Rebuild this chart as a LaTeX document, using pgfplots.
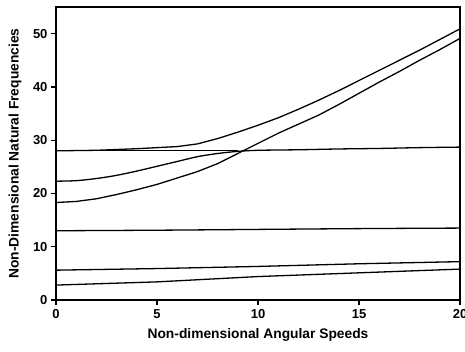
\documentclass[border=0pt]{standalone}
\usepackage{pgfplots}
\pgfplotsset{compat=1.18}
\usepackage{fontspec}
\setmainfont{Liberation Sans}
\begin{document}
\begin{tikzpicture}
\begin{axis}[
  scale only axis, width=404pt, height=293pt,
  xmin=0, xmax=20, ymin=0, ymax=55,
  xtick={0,5,10,15,20}, ytick={0,10,20,30,40,50},
  tick align=outside, tick pos=left,
  major tick length=5pt,
  axis line style={line width=1.6pt},
  every tick/.style={line width=1.2pt, black},
  tick label style={font=\fontsize{13}{14}\selectfont\bfseries},
  /pgf/number format/assume math mode=true,
  xlabel={\fontsize{13.8}{15}\selectfont\bfseries Non-dimensional Angular Speeds},
  ylabel={\fontsize{13.8}{15}\selectfont\bfseries Non-Dimensional Natural Frequencies},
  xlabel style={at={(axis description cs:0.5,-0.1195)}, anchor=center},
  ylabel style={at={(axis description cs:-0.1015,0.5)}, anchor=center},
  xticklabel style={yshift=-1pt},
  cycle list={{black, smooth, mark=none}},
  every axis plot/.append style={line width=1.3pt},
]
\addplot coordinates {(0,28.0) (2,28.1) (4,28.4) (6,28.8) (7,29.3) (8,30.3) (9,31.5) (10,32.8) (11,34.2) (12,35.8) (13,37.5) (14,39.3) (15,41.2) (16,43.1) (17,45.0) (18,46.9) (19,48.9) (20,50.9)};
\addplot coordinates {(0,22.3) (1,22.4) (2,22.8) (3,23.4) (4,24.2) (5,25.1) (6,26.0) (7,26.9) (8,27.5) (9,27.9) (10,28.1) (12,28.2) (14,28.35) (16,28.45) (18,28.6) (20,28.7)};
\addplot coordinates {(0,28.0) (4,28.0) (8,28.0) (9,28.0)};
\addplot coordinates {(0,18.3) (1,18.5) (2,19.0) (3,19.8) (4,20.7) (5,21.7) (6,22.9) (7,24.1) (8,25.6) (9,27.5) (10,29.4) (11,31.3) (12,33.0) (13,34.7) (14,36.7) (15,38.8) (16,40.9) (17,42.9) (18,45.0) (19,47.0) (20,49.1)};
\addplot coordinates {(0,13.0) (5,13.1) (10,13.25) (15,13.4) (20,13.5)};
\addplot coordinates {(0,5.6) (5,5.9) (10,6.3) (15,6.8) (20,7.2)};
\addplot coordinates {(0,2.8) (5,3.4) (10,4.4) (15,5.1) (20,5.8)};
\addplot coordinates {(0,0.1) (20,0.1)};
\end{axis}
\pgfresetboundingbox
\path[use as bounding box] (-56pt,-52pt) rectangle (409pt,300pt);
\end{tikzpicture}
\end{document}
